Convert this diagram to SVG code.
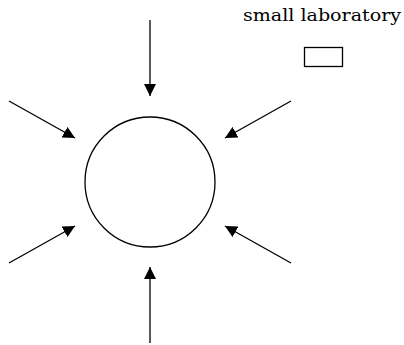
<svg xmlns="http://www.w3.org/2000/svg" width="404" height="345" viewBox="0 0 404 345">
<style>
.ln{stroke:#000;stroke-width:1.3;fill:none}
.nd{stroke:#000;stroke-width:1.3;fill:#fff}
.lbl{font-family:"DejaVu Serif","Liberation Serif",serif;font-size:17.5px;fill:#000}
</style>
<defs>
<marker id="ah" markerUnits="userSpaceOnUse" markerWidth="13" markerHeight="13" viewBox="0 0 13 13" refX="12" refY="6.5" orient="auto">
<path d="M0,0.5 L12,6.5 L0,12.5 Z" fill="#000"/>
</marker>
</defs>
<rect width="404" height="345" fill="#fff"/>
<g id="lab-label">
<text class="lbl" x="401" y="21" text-anchor="end" textLength="158" lengthAdjust="spacingAndGlyphs">small laboratory</text>
</g>
<g id="small-lab">
<rect class="nd" x="304.5" y="47.5" width="38" height="19"/>
</g>
<g id="room">
<circle class="nd" cx="150" cy="182" r="65"/>
</g>
<g id="connectors">
<line class="ln" x1="150" y1="20" x2="150" y2="96" marker-end="url(#ah)"/>
<line class="ln" x1="150" y1="343" x2="150" y2="267" marker-end="url(#ah)"/>
<line class="ln" x1="9" y1="101" x2="75" y2="138" marker-end="url(#ah)"/>
<line class="ln" x1="291" y1="101" x2="225" y2="138" marker-end="url(#ah)"/>
<line class="ln" x1="9" y1="263" x2="75" y2="226" marker-end="url(#ah)"/>
<line class="ln" x1="291" y1="263" x2="225" y2="226" marker-end="url(#ah)"/>
</g>
</svg>
